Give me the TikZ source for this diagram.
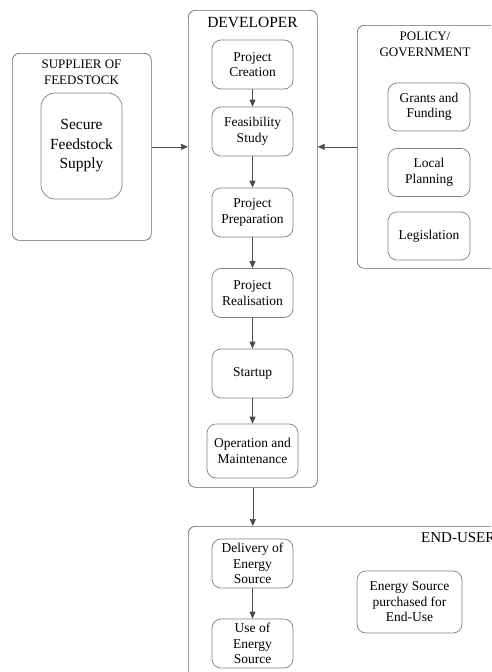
\documentclass[tikz,border=0pt]{standalone}
\usepackage{fontspec}
\setmainfont{Liberation Serif}
\newfontfamily\boxfont{Liberation Serif}
\usetikzlibrary{shapes, arrows, calc, positioning}
\usetikzlibrary{arrows.meta}

\begin{document}
\begin{tikzpicture}[
  x=1pt, y=-1pt,
  every node/.style={font=\boxfont\fontsize{13.5}{15.5}\selectfont, align=center, inner sep=1pt},
  group/.style={rectangle, draw=black!60, line width=0.7pt, rounded corners=7pt, anchor=north west},
  task/.style={rectangle, draw=black!50, line width=0.7pt, rounded corners=9pt, minimum width=81pt, minimum height=49pt},
  title/.style={font=\boxfont\fontsize{13}{16}\selectfont},
  link/.style={draw=black!70, line width=0.7pt, -{Triangle[length=7pt,width=6pt]}}
]
\useasboundingbox (0,0) rectangle (491,672);
\clip (0,0) rectangle (491,672);

% outer groups
\node[group, minimum width=139pt, minimum height=187pt] (supplier) at (12,53) {};
\node[group, minimum width=129pt, minimum height=477pt] (developer) at (188,10) {};
\node[group, minimum width=140pt, minimum height=243pt] (policy) at (357,25) {};
\node[group, minimum width=320pt, minimum height=180pt] (enduser) at (188,526) {};

% group titles
\node[title] (supplierT) at (81.5,72) {SUPPLIER OF\\FEEDSTOCK};
\node[title, font=\boxfont\fontsize{15.5}{18}\selectfont] (developerT) at (252.5,22) {DEVELOPER};
\node[title] (policyT) at (425,44) {POLICY/\\GOVERNMENT};
\node[title, font=\boxfont\fontsize{15}{18}\selectfont, anchor=west] (enduserT) at (420,538) {END-USER};

% supplier
\node[task, rounded corners=14pt, minimum height=106pt, font=\boxfont\fontsize{15.5}{19.5}\selectfont] (secure) at (81.5,146) {Secure\\Feedstock\\Supply};

% developer chain
\node[task] (creation) at (252.5,64.5) {Project\\Creation};
\node[task] (feasibility) at (252.5,131.5) {Feasibility\\Study};
\node[task] (preparation) at (252.5,212.5) {Project\\Preparation};
\node[task] (realisation) at (252.5,293) {Project\\Realisation};
\node[task] (startup) at (252.5,373.5) {Startup};
\node[task, minimum width=91pt, minimum height=54pt] (operation) at (252.5,451) {Operation and\\Maintenance};

% policy
\node[task, minimum width=82pt, minimum height=48pt] (grants) at (429,107) {Grants and\\Funding};
\node[task, minimum width=82pt, minimum height=48pt] (planning) at (429,172.5) {Local\\Planning};
\node[task, minimum width=82pt, minimum height=48pt] (legislation) at (429,236) {Legislation};

% end-user
\node[task] (delivery) at (252.5,563.5) {Delivery of\\Energy\\Source};
\node[task] (useof) at (252.5,643.5) {Use of\\Energy\\Source};
\node[task, minimum width=105pt, minimum height=62pt] (purchased) at (409.5,602) {Energy Source\\purchased for\\End-Use};

% connectors
\draw[link] (creation) -- (feasibility);
\draw[link] (feasibility) -- (preparation);
\draw[link] (preparation) -- (realisation);
\draw[link] (realisation) -- (startup);
\draw[link] (startup) -- (operation);
\draw[link] (delivery) -- (useof);
\draw[link] (supplier.east) -- (supplier.east -| developer.west);
\draw[link] (policy.west) -- (policy.west -| developer.east);
\draw[link] (developer.south) -- (developer.south |- enduser.north);

\end{tikzpicture}
\end{document}
